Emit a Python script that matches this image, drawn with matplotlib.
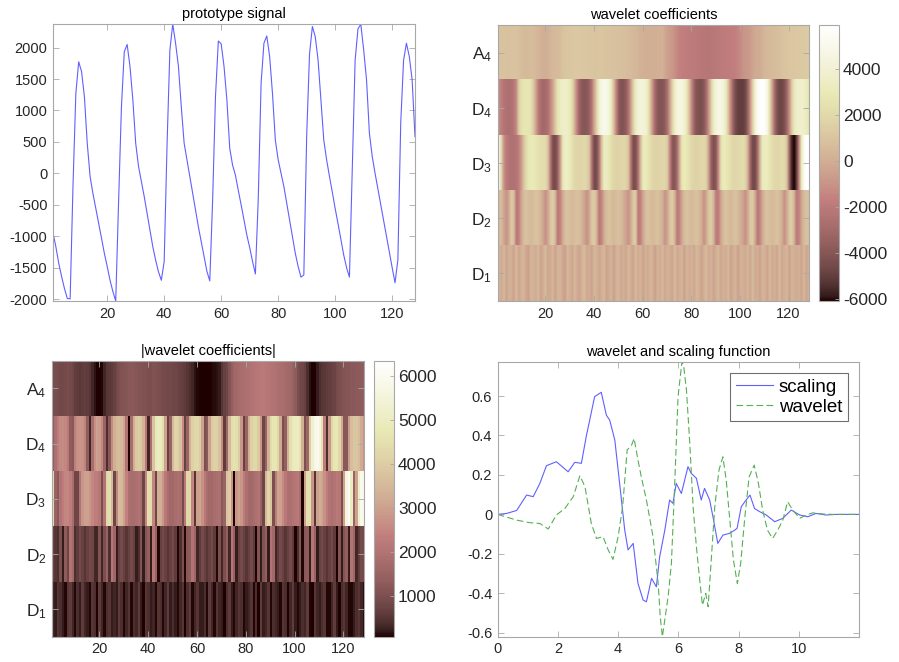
import numpy as np
import matplotlib
matplotlib.use("Agg")
import matplotlib.pyplot as plt

plt.rcParams['font.family'] = ['Liberation Sans', 'DejaVu Sans']
plt.rcParams['axes.unicode_minus'] = False

# prototype signal, samples 1..128
signal = [-950, -1170, -1430, -1640, -1830, -1990, -1995, -200,
          1270, 1775, 1620, 1220, 480, -50, -320, -555,
          -795, -1030, -1270, -1480, -1700, -1880, -2030, -450,
          1060, 1935, 2050, 1700, 1170, 480, 110, -130,
          -370, -635, -900, -1165, -1380, -1565, -1700, -1400,
          450, 1960, 2375, 2070, 1700, 1060, 480, 215,
          -50, -315, -580, -850, -1085, -1325, -1560, -1710,
          -420, 1220, 2105, 2060, 1700, 1170, 400, 130,
          -30, -270, -500, -740, -980, -1180, -1400, -1600,
          -420, 1430, 2070, 2185, 1860, 1270, 530, 215,
          0, -210, -475, -740, -1005, -1270, -1480, -1650,
          -1615, 600, 1900, 2335, 2175, 1800, 1170, 530,
          215, -50, -300, -560, -800, -1050, -1300, -1500,
          -1650, 100, 1800, 2300, 2370, 1960, 1490, 640,
          270, 0, -250, -500, -750, -1000, -1250, -1500,
          -1740, -1376, 800, 1800, 2070, 1860, 1490, 585]

# coefficient rows (128 columns each)
a4 = [900, 950, 900, 850, 850, 900, 950, 900, 800,
      650, 600, 550, 600, 650, 600, 500,
      300, 150, 80, 60, 100, 300,
      500, 550, 600, 700, 850,
      1000, 1050, 1100, 1150, 1200, 1200, 1200, 1150, 1100, 1100, 1050, 1050, 1000, 1000, 1050, 1050, 1000, 950,
      900, 900, 850, 850, 800, 800, 750, 700, 650, 600, 500, 400, 300,
      150, 100, 80, 60, 50, 60, 80, 100, 120, 150, -200, -500,
      -700, -800, -1100, -1400,
      -1600, -1700, -1750, -1800, -1850, -1900, -1950, -2000, -2050, -2100,
      -2150, -2200, -2200, -2150, -2100, -2050, -2000, -1950, -1900, -1850,
      -1800, -1750, -1700, -1650, -1500, -1300,
      -1000, -850, -800, -700, -400, -150, -60, -50,
      200, 400, 500, 550, 600, 650, 700, 750,
      900, 1000, 1050, 1100, 1150, 1150, 1200, 1200, 1250, 1250, 1300, 1300]

d4 = [-1300, -1900, -2300, -2550, -2600, -2500, -2200, -1300, 1200, 2300, 2700, 2800, 2700, 2400, 1300, -300,
      -1800, -2700, -3000, -2900, -2500, -1500, -400, 1200, 2600, 3300, 3550, 3600, 3500, 3100, 2000, 0,
      -1800, -3300, -3900, -4000, -3900, -3400, -2200, -300, 1800, 3800, 4800, 5000, 4900, 4400, 3000, 700,
      -1500, -3500, -4200, -4100, -3700, -2600, -700, 1500, 3300, 4100, 4300, 4300, 4000, 3000, 1000, -1200,
      -3000, -3900, -4100, -4100, -3700, -2600, -600, 1600, 3500, 4400, 4600, 4500, 4000, 2800, 700, -1500,
      -3300, -4100, -4300, -4300, -3900, -2800, -800, 1500, 3400, 4400, 4700, 4700, 4300, 3200, 1000, -1400,
      -3400, -4500, -4900, -5000, -5000, -4600, -3300, -1000, 1600, 4000, 5300, 5800, 5900, 5600, 4600, 2300,
      -400, -2800, -4200, -4700, -4700, -4300, -3200, -1200, 1200, 2900, 3600, 3800, 3800, 3600, 3200, 2700]

d3 = [4500, 1500, -1200, -2000, -2300, -2500, -2500, -2300, -1800, -800, 800, 2000, 2800, 3000, 3000, 2800,
      2500, 2300, 2300, 2100, 1000, -2000, -4300, -4500, -3500, -800, 2500, 3600, 3500, 3000, 2400, 1900,
      1800, 1800, 1900, 2000, 1800, 800, -2500, -4500, -4400, -2500, 800, 3300, 3300, 2800, 2200, 1800,
      1700, 1700, 1800, 1900, 1800, 900, -2200, -4300, -4300, -2500, 500, 3000, 3100, 2700, 2200, 1800,
      1700, 1700, 1800, 1900, 1900, 1200, -1500, -3800, -4000, -2800, 0, 2800, 3100, 2800, 2300, 1900,
      1700, 1700, 1800, 1900, 2000, 1500, -800, -3500, -4300, -3800, -1000, 2300, 3100, 3000, 2600, 2200,
      1900, 1900, 2000, 2100, 2200, 1800, 0, -3000, -4500, -4500, -2800, 500, 3000, 3300, 3100, 2700,
      2300, 2000, 1900, 2000, 2200, 2100, 1000, -3000, -5600, -6090, -5000, -1500, 3000, 5200, 5900, 5900]

d2 = [700, 500, -400, -1000, -200, 1300, 800, -2000, -1700, -400, 600, 900, 700, 500, 700, 900,
      800, 300, -300, -1100, -300, 1000, 1500, 400, -2100, -1600, -200, 700, 900, 700, 500, 700,
      900, 700, 200, -400, -1100, -200, 1100, 1400, 200, -2100, -1500, -100, 700, 900, 700, 500,
      700, 900, 600, 100, -400, -1000, -100, 1200, 1300, -2000, -1600, -300, 600, 900, 700, 500,
      700, 900, 600, 100, -1000, -300, 1000, 1400, 300, -2100, -1500, -200, 700, 900, 700, 500,
      700, 900, 600, 0, -1100, -200, 1100, 1400, 200, -2000, -1700, -300, 600, 900, 700, 500,
      700, 900, 600, 0, -400, -1100, -100, 1200, 1300, -200, -2100, -1500, -200, 700, 900, 700,
      500, 700, 900, 600, 0, -1100, -200, 1100, 1400, 200, -2000, -1600, -300, 600, 900, 800]

d1 = [300, -200, 500, -400, 200, 100, -500, 600, -300, 100, 400, -200, -600, 300, 200, -100,
      500, -400, 0, 600, -300, -100, 400, -500, 200, 300, -200, -600, 400, 100, -300, 500,
      -100, -400, 300, 600, -200, 0, -500, 400, 200, -300, 100, 500, -400, -100, 300, -600,
      200, 400, -200, 100, -300, 500, 0, -400, 600, -100, 300, -500, 200, -200, 400, 100,
      -600, 300, -100, 500, -300, 200, 0, -400, 600, -200, 100, 300, -500, 400, -100, 200,
      -300, 500, 100, -400, 0, 600, -200, 300, -500, 100, 400, -300, 200, -100, 500, -400,
      0, 300, -600, 200, 100, -200, 400, -300, 600, -100, 0, -500, 300, 200, -400, 500,
      -100, 100, -300, 600, -200, 0, 400, -500, 300, 100, -100, 200, -400, 500, -300, 100]

row_labels = ['A_4', 'D_4', 'D_3', 'D_2', 'D_1']

# wavelet / scaling function
scaling_x = [0, 0.3, 0.63, 0.96, 1.18, 1.4, 1.62, 1.95, 2.34, 2.56, 2.78, 2.94, 3.22, 3.44, 3.61,
             3.72, 3.89, 4.05, 4.22, 4.33, 4.5, 4.66, 4.83, 4.94, 5.11, 5.27, 5.38, 5.55, 5.71, 5.82,
             5.93, 6.1, 6.32, 6.43, 6.6, 6.76, 6.87, 7.04, 7.15, 7.31, 7.48, 7.7, 7.87, 7.95, 8.09,
             8.25, 8.38, 8.53, 8.7, 8.92, 9.2, 9.47, 9.75, 10.03, 10.3, 10.57, 10.9, 11.24, 12.0]
scaling_y = [0, 0.005, 0.02, 0.098, 0.09, 0.157, 0.247, 0.267, 0.216, 0.264, 0.259, 0.394, 0.597, 0.619, 0.503,
             0.478, 0.377, 0.157, -0.08, -0.18, -0.147, -0.35, -0.434, -0.443, -0.324, -0.367, -0.215, -0.08, 0.073, 0.056,
             0.157, 0.106, 0.242, 0.208, 0.183, 0.073, 0.132, 0.073, -0.012, -0.147, -0.105, -0.096, -0.08, -0.071, 0.039,
             0.073, 0.098, 0.03, 0.014, -0.003, -0.037, -0.02, 0.022, -0.003, -0.012, 0.005, -0.003, 0, 0]
wavelet_x = [0, 0.63, 1.07, 1.4, 1.68, 1.95, 2.23, 2.51, 2.73, 2.9, 3.11, 3.28, 3.5, 3.67, 3.83,
             4.0, 4.15, 4.3, 4.45, 4.53, 4.66, 4.77, 4.94, 5.16, 5.33, 5.40, 5.47, 5.66, 5.77, 5.88,
             5.99, 6.12, 6.18, 6.27, 6.38, 6.49, 6.6, 6.71, 6.8, 6.91, 6.99, 7.1, 7.21, 7.35, 7.48,
             7.59, 7.7, 7.83, 7.96, 8.07, 8.21, 8.35, 8.52, 8.66, 8.8, 8.96, 9.13, 9.3, 9.47, 9.63,
             9.8, 10.03, 10.25, 10.47, 10.8, 11.13, 12.0]
wavelet_y = [0, -0.029, -0.042, -0.046, -0.074, -0.003, 0.03, 0.09, 0.196, 0.14, -0.046, -0.122, -0.113, -0.18, -0.228,
             -0.113, 0.039, 0.326, 0.352, 0.385, 0.275, 0.19, 0.073, -0.113, -0.35, -0.52, -0.62, -0.417, -0.248, 0.157,
             0.597, 0.774, 0.749, 0.63, 0.36, 0.039, -0.164, -0.333, -0.46, -0.40, -0.468, -0.215, 0.039, 0.225, 0.292,
             0.174, -0.012, -0.232, -0.35, -0.248, -0.012, 0.19, 0.25, 0.157, 0.022, -0.08, -0.122, -0.08, -0.029, 0.064,
             0.022, -0.02, -0.003, 0.008, 0.002, 0, 0]

GRAY = '#a8a8a8'
TXT = '#262626'


def matlab_style(ax, labelsize=10.5):
    for s in ax.spines.values():
        s.set_color(GRAY)
        s.set_linewidth(0.8)
    ax.tick_params(direction='in', top=True, right=True, length=4, width=0.6,
                   color=GRAY, labelcolor=TXT, labelsize=labelsize, pad=4)


def cbar_style(cb, ticks):
    cb.set_ticks(ticks)
    cb.outline.set_edgecolor(GRAY)
    cb.outline.set_linewidth(0.8)
    cb.ax.tick_params(direction='in', length=3, width=0.6, color=GRAY,
                      labelcolor=TXT, labelsize=12.5, pad=3)


fig = plt.figure(figsize=(8.99, 6.62), dpi=100)

# top-left: signal
ax1 = fig.add_axes([0.059, 0.5453, 0.4026, 0.4184])
sig = np.array(signal)
n = np.arange(1, len(sig) + 1)
ax1.plot(n, sig, color='#6060ff', lw=0.8)
ax1.set_xlim(1, len(sig))
ax1.set_ylim(sig.min(), sig.max())
ax1.set_xticks(range(20, 121, 20))
ax1.set_yticks(range(-2000, 2001, 500))
ax1.set_title('prototype signal', fontsize=10.5, color='black', pad=4)
matlab_style(ax1)

coef = np.array([a4, d4, d3, d2, d1], dtype=float)
ncol = coef.shape[1]
ylabels = [r'$\mathregular{%s}$' % l for l in row_labels]

# top-right: coefficients (smooth rendering per row)
ax2 = fig.add_axes([0.5536, 0.5453, 0.3466, 0.4169])
vmin, vmax = coef.min(), coef.max()
for i in range(coef.shape[0]):
    im2 = ax2.imshow(coef[i][None, :], cmap='pink', vmin=vmin, vmax=vmax,
                     extent=(0.5, ncol + 0.5, i + 1.5, i + 0.5), aspect='auto',
                     interpolation='bilinear')
ax2.set_xlim(0.5, ncol + 0.5)
ax2.set_ylim(coef.shape[0] + 0.5, 0.5)
ax2.set_xticks(range(20, 121, 20))
ax2.set_yticks(range(1, 6))
ax2.set_yticklabels(ylabels)
ax2.set_title('wavelet coefficients', fontsize=10.5, color='black', pad=4)
matlab_style(ax2)
ax2.tick_params(axis='y', labelsize=12.5)
cax2 = fig.add_axes([0.911, 0.5453, 0.0222, 0.4169])
cb2 = fig.colorbar(im2, cax=cax2)
cbar_style(cb2, range(-6000, 4001, 2000))

# bottom-left: absolute coefficients
ax3 = fig.add_axes([0.0578, 0.0382, 0.3471, 0.4169])
im3 = ax3.imshow(np.abs(coef), cmap='pink', vmin=70, vmax=6340,
                 extent=(0.5, ncol + 0.5, coef.shape[0] + 0.5, 0.5), aspect='auto',
                 interpolation='nearest')
ax3.set_xticks(range(20, 121, 20))
ax3.set_yticks(range(1, 6))
ax3.set_yticklabels(ylabels)
ax3.set_title('|wavelet coefficients|', fontsize=10.5, color='black', pad=4)
matlab_style(ax3)
ax3.tick_params(axis='y', labelsize=12.5)
cax3 = fig.add_axes([0.416, 0.0382, 0.0222, 0.4169])
cb3 = fig.colorbar(im3, cax=cax3)
cbar_style(cb3, range(1000, 6001, 1000))

# bottom-right: wavelet and scaling function
ax4 = fig.add_axes([0.5536, 0.0382, 0.4019, 0.4154])
ax4.plot(scaling_x, scaling_y, color='#6060ff', lw=0.8, label='scaling')
ax4.plot(wavelet_x, wavelet_y, color='#55b055', lw=0.8, ls=(0, (6, 3)), label='wavelet')
ax4.set_xlim(0, 12)
ax4.set_ylim(min(min(scaling_y), min(wavelet_y)), max(max(scaling_y), max(wavelet_y)))
ax4.set_xticks(range(0, 11, 2))
ax4.set_yticks([-0.6, -0.4, -0.2, 0, 0.2, 0.4, 0.6])
ax4.set_yticklabels(['-0.6', '-0.4', '-0.2', '0', '0.2', '0.4', '0.6'])
ax4.set_title('wavelet and scaling function', fontsize=10.5, color='black', pad=4)
matlab_style(ax4)
leg = ax4.legend(loc='upper right', fontsize=13.5, fancybox=False, framealpha=1,
                 handlelength=2.0, handletextpad=0.3, borderpad=0.3,
                 labelspacing=0.15, borderaxespad=0.6)
leg.get_frame().set_edgecolor('#707070')
leg.get_frame().set_linewidth(0.8)

fig.savefig('out.png', dpi=100)
